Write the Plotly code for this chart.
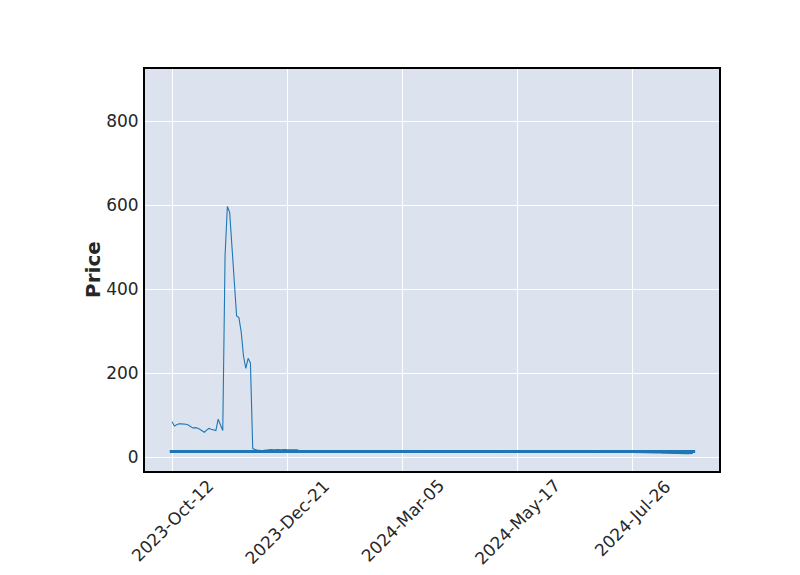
import numpy as np
import plotly.graph_objects as go

# Daily closing prices (one value per trading bar, Oct 2023 - Sep 2024)
close_early = [84, 74, 77, 79, 79, 79, 78, 76, 73, 69, 70, 69, 66, 62, 59, 64, 68, 66, 64, 63,
               90, 76, 63, 480, 597, 582, 500, 400, 336, 332, 298, 240, 211, 235, 224, 20]
close_mid1 = [17, 16, 16, 15, 16, 17,
              18, 18, 17, 18, 18, 17, 18, 18, 17, 17, 18, 17, 17, 16, 16, 15, 15, 14, 14]
close_mid2 = [14, 13.5, 13.8, 14, 13.6, 13.4, 13.2, 13.5, 13.7, 13.3, 13.1, 13.4,
              13.6, 13.9, 14.1, 13.8, 13.5, 13.2, 13.0, 12.8, 13.1, 13.4, 13.6, 13.3,
              13.0, 12.9, 13.2, 13.5, 13.8, 14.0, 13.7, 13.4, 13.1, 12.9, 12.7, 13.0,
              13.3, 13.6, 13.9, 14.2, 14.0, 13.7, 13.4, 13.2, 13.0, 12.8, 12.9, 13.1,
              13.4, 13.7, 13.9, 13.6, 13.3, 13.1, 12.9, 13.0, 13.2, 13.5, 13.8, 14.0,
              13.8, 13.5, 13.2, 13.0, 12.8, 12.6, 12.9, 13.2, 13.5, 13.7, 13.9, 13.6,
              13.3, 13.0, 12.8, 12.7, 12.9, 13.2, 13.4, 13.6, 13.8, 13.5, 13.2, 13.0,
              12.8, 12.6, 12.5, 12.7, 13.0, 13.3, 13.5, 13.7, 13.4, 13.1, 12.9, 12.7,
              12.6, 12.8, 13.0, 13.2, 13.4, 13.2, 12.9, 12.7, 12.5, 12.4, 12.6, 12.9,
              13.1, 13.3, 13.1, 12.8, 12.6, 12.4, 12.3, 12.5, 12.7, 12.9, 12.7, 12.5,
              12.3, 12.2, 12.4, 12.6, 12.8, 12.6, 12.4, 12.2, 12.0, 11.9, 12.1, 12.3,
              12.1, 11.9, 11.7, 11.6, 11.8, 11.5, 11.3, 11.2, 11.0, 10.8, 10.6, 10.5]
close_late = [10, 10, 9.5, 10, 9.5, 9.5, 10, 9, 9, 9, 8.5, 8.5, 8, 8.5, 8.5, 8, 8, 8.5, 8,
              8, 8.5, 8.5]
close = close_early + close_mid1 + close_mid2 + close_late

hline_value = 13.1

tick_positions = [0, 50, 100, 150, 200]
tick_labels = ["2023-Oct-12", "2023-Dec-21", "2024-Mar-05", "2024-May-17", "2024-Jul-26"]

y_ticks = [0, 200, 400, 600, 800]

n = len(close)
bar_index = np.arange(n)

fig = go.Figure()
fig.add_trace(go.Scatter(
    x=[-1, n], y=[hline_value, hline_value], mode="lines",
    line=dict(color="#1f77b4", width=3), hoverinfo="skip", showlegend=False))
fig.add_trace(go.Scatter(
    x=bar_index, y=close, mode="lines",
    line=dict(color="#1f77b4", width=1.1), showlegend=False))

font_color = "#262626"
tick_size = 17

# x tick labels centred under ticks (rotated 45 degrees)
for pos, lab in zip(tick_positions, tick_labels):
    fig.add_annotation(
        x=pos, y=0, xref="x", yref="paper", text=lab, showarrow=False,
        textangle=-45, xanchor="center", yanchor="top", yshift=-2,
        font=dict(family="DejaVu Sans", size=tick_size, color=font_color))

fig.add_annotation(
    x=0, y=0.5, xref="paper", yref="paper", text="<b>Price</b>", showarrow=False,
    textangle=-90, xanchor="center", yanchor="middle", xshift=-52,
    font=dict(family="DejaVu Sans", size=20, color=font_color))

pad = 0.05 * n
fig.update_layout(
    width=792, height=567,
    margin=dict(l=137, r=81, t=61, b=104, autoexpand=False),
    paper_bgcolor="white",
    plot_bgcolor="#DCE3EF",
    font=dict(family="DejaVu Sans", size=tick_size, color=font_color),
    xaxis=dict(
        range=[-pad - 0.4, n - 1 + pad],
        tickmode="array", tickvals=tick_positions, showticklabels=False,
        showgrid=True, gridcolor="white", gridwidth=1, automargin=False,
        zeroline=False, showline=True, linecolor="black", linewidth=2, mirror=True,
        ticks="",
    ),
    yaxis=dict(
        range=[-33.3, 924], automargin=False,
        tickmode="array", tickvals=y_ticks, ticklabelstandoff=1,
        showgrid=True, gridcolor="white", gridwidth=1,
        zeroline=False, showline=True, linecolor="black", linewidth=2, mirror=True,
        ticks="", tickfont=dict(size=tick_size, color=font_color),
    ),
)

fig.write_html("out.html")
